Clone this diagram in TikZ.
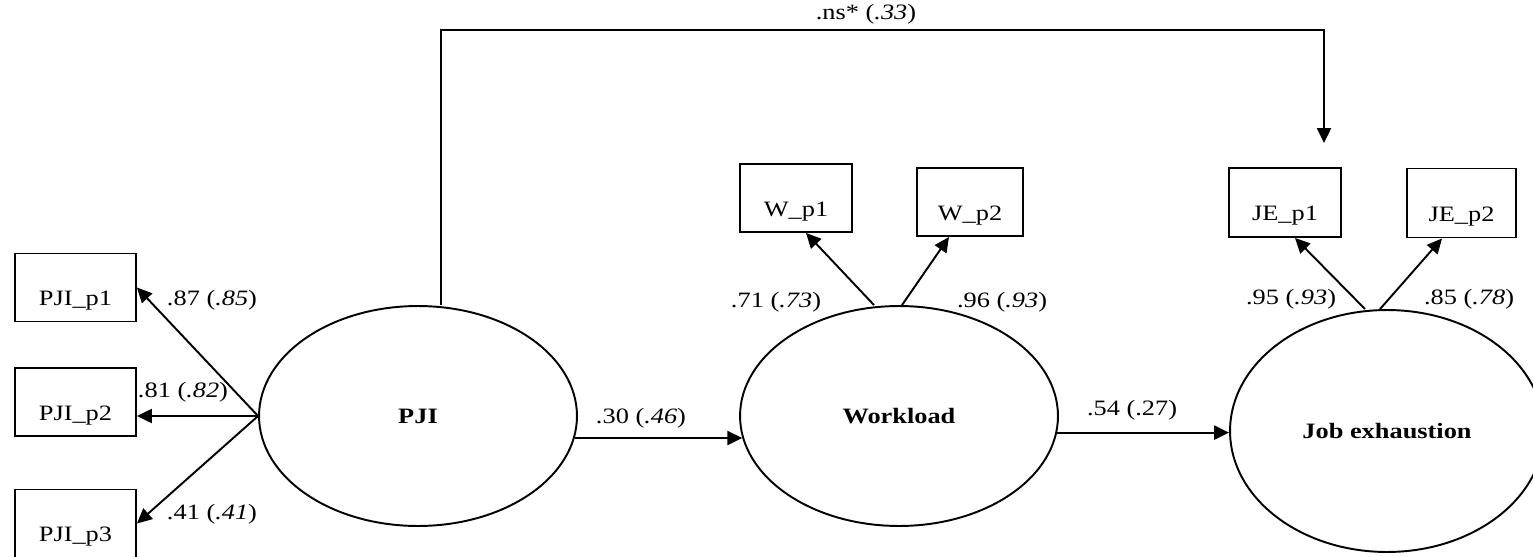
\documentclass[tikz,border=0pt]{standalone}
\usepackage{fontspec}
\setmainfont{Liberation Serif}[FakeStretch=1.2]
\usepackage{tikz}
\usetikzlibrary{shapes.geometric,arrows.meta,calc}

\newcommand{\coef}[2]{#1 (\textit{#2})}

\begin{document}
\begin{tikzpicture}[x=0.02cm,y=-0.02cm,font=\fontsize{12.5}{14}\selectfont,
  >={Triangle[length=8.5pt,width=8pt]},line width=1.1pt,
  latent/.style={draw,ellipse,minimum width=6.36cm,minimum height=4.4cm,
    font=\fontsize{12.5}{14}\selectfont\bfseries},
  item/.style={draw,rectangle,inner sep=0pt,text height=29.6pt,text depth=9.1pt,
    minimum height=1.36cm,minimum width=2.24cm}]
  \useasboundingbox (0,0) rectangle (1533,557);
  % latent variables
  \node[latent] (pji) at (418,416) {PJI};
  \node[latent] (wl) at (899,416) {Workload};
  \node[latent,minimum width=6.28cm,minimum height=4.84cm] (je) at (1387,431) {Job exhaustion};
  % indicators
  \node[item,minimum width=2.42cm] (pjip1) at (75.5,287.5) {PJI\_p1};
  \node[item,minimum width=2.42cm] (pjip2) at (75.5,402) {PJI\_p2};
  \node[item,minimum width=2.42cm] (pjip3) at (75.5,523.5) {PJI\_p3};
  \node[item] (wp1) at (796,198) {W\_p1};
  \node[item,minimum width=2.12cm] (wp2) at (970,202) {W\_p2};
  \node[item,minimum height=1.38cm] (jep1) at (1285,202.5) {JE\_p1};
  \node[item,minimum width=2.18cm,minimum height=1.38cm] (jep2) at (1461.5,203) {JE\_p2};
  % loadings
  \draw[->] (pji.west) -- (pjip1.east);
  \draw[->] (pji.west) -- (pji.west -| pjip2.east);
  \draw[->] (pji.west) -- (pjip3.east);
  \draw[->] ($(wl.north)+(-25,0)$) -- ($(wp1.south)+(10,0)$);
  \draw[->] ($(wl.north)+(3,0)$) -- ($(wp2.south)+(-21,0)$);
  \draw[->] ($(je.north)+(-22,0)$) -- ($(jep1.south)+(10,0)$);
  \draw[->] ($(je.north)+(-7,0)$) -- ($(jep2.south)+(-19.5,0)$);
  \node (l1) at (212,300) {\coef{.87}{.85}};
  \node (l2) at (183,392) {\coef{.81}{.82}};
  \node (l3) at (212,514) {\coef{.41}{.41}};
  \node (lw1) at (776,302) {\coef{.71}{.73}};
  \node (lw2) at (1002,302) {\coef{.96}{.93}};
  \node (lj1) at (1291,299) {\coef{.95}{.93}};
  \node (lj2) at (1469,299) {\coef{.85}{.78}};
  % structural paths
  \draw[->] (pji.-8.4) -- (wl.188.4);
  \draw[->] (wl.-6.2) -- (wl.-6.2 -| je.west);
  \node (b1) at (641,418) {\coef{.30}{.46}};
  \node (b2) at (1132,410) {.54 (.27)};
  % direct path
  \coordinate (nstop) at (1324,30);
  \coordinate (nsend) at (1324,143);
  \draw[->] ($(pji.north)+(23,0)$) |- (nstop) -- (nsend);
  \node (ns) at (866,14) {\coef{.ns*}{.33}};
\end{tikzpicture}
\end{document}
